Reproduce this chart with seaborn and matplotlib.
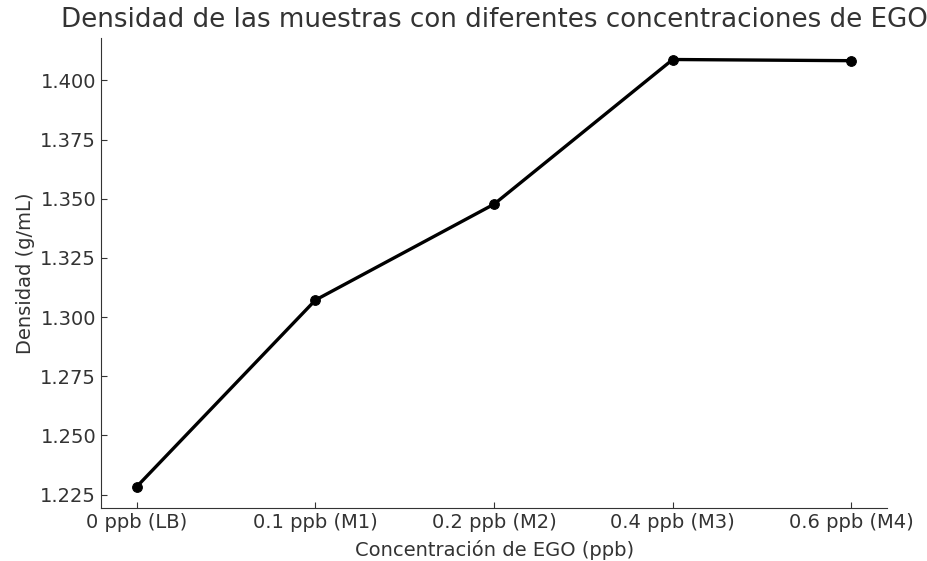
import pandas as pd
import matplotlib.pyplot as plt
import seaborn as sns

concentraciones = ['0 ppb (LB)', '0.1 ppb (M1)', '0.2 ppb (M2)', '0.4 ppb (M3)', '0.6 ppb (M4)']
densidad = [1.2284, 1.3072, 1.3477, 1.4088, 1.4083]

df = pd.DataFrame({'Concentracion': concentraciones, 'Densidad': densidad})

sns.set_style('ticks', {
    'xtick.direction': 'in',
    'ytick.direction': 'in',
    'axes.edgecolor': '#333333',
    'text.color': '#333333',
    'axes.labelcolor': '#333333',
    'xtick.color': '#333333',
    'ytick.color': '#333333',
})
plt.rcParams['font.family'] = ['DejaVu Sans']

fig = plt.figure(figsize=(9.27, 5.61), dpi=100)
ax = fig.add_axes([0.109, 0.0945, 0.848, 0.8375])

sns.lineplot(data=df, x='Concentracion', y='Densidad', color='black',
             marker='o', markersize=7, linewidth=2.4, markeredgecolor='black', ax=ax)

ax.set_title('Densidad de las muestras con diferentes concentraciones de EGO', fontsize=18.8, pad=8)
ax.set_xlabel('Concentración de EGO (ppb)', fontsize=14, labelpad=6)
ax.set_ylabel('Densidad (g/mL)', fontsize=14)
ax.tick_params(labelsize=14, length=4)
ax.yaxis.set_major_formatter(plt.FormatStrFormatter('%.3f'))
sns.despine(ax=ax)

plt.savefig('out.png', dpi=100)
